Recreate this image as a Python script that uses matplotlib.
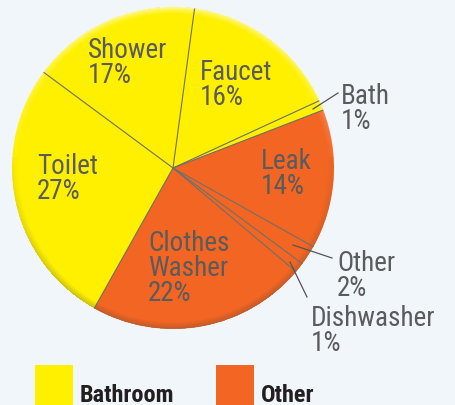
import numpy as np
import matplotlib.pyplot as plt
from matplotlib.patches import Rectangle

# water use by category, read clockwise from the top
labels = ['Faucet', 'Bath', 'Leak', 'Other', 'Dishwasher', 'Clothes\nWasher', 'Toilet', 'Shower']
shares = [16, 1, 14, 2, 1, 22, 27, 17]
groups = ['Bathroom', 'Bathroom', 'Other', 'Other', 'Other', 'Other', 'Bathroom', 'Bathroom']
group_names = ['Bathroom', 'Other']

colors = {'Bathroom': '#FFF000', 'Other': '#F26522'}
text_gray = '#5A5B5D'
font = ['Roboto Condensed', 'DejaVu Sans']

W, H = 455, 405
fig = plt.figure(figsize=(W / 100, H / 100), dpi=100)
fig.patch.set_facecolor('#F1F6FA')
ax = fig.add_axes([0, 0, 1, 1])

cx, cy, R = 173, H - 168, 161
start = 82.3
ax.pie(shares, colors=[colors[g] for g in groups], startangle=start,
       counterclock=False, center=(cx, cy), radius=R,
       wedgeprops=dict(linewidth=0))

# soft bevel on the rim: pale at the top, darker at the bottom
yy, xx = np.mgrid[H - 0.5:0:-1, 0.5:W:1]
dx, dy = xx - cx, yy - cy
r = np.hypot(dx, dy)
band = np.clip((r - (R - 7)) / 7, 0, 1) * (r <= R)
up = np.where(r > 0, dy / np.maximum(r, 1), 0)
shade = np.zeros((H, W, 4))
light = band * np.clip(up, 0, 1) * 0.55
dark = band * np.clip(-up + 0.2, 0, 1) * 0.28
shade[..., :3] = np.where((light > dark)[..., None], 1.0, 0.25)
shade[..., 3] = np.maximum(light, dark)
ax.imshow(shade, extent=[0, W, 0, H], origin='upper', zorder=2, interpolation='bilinear')

# thin dividers between slices (no outline on the rim)
edges = start - 360 * np.cumsum(shares) / sum(shares)
for a in np.radians(edges):
    ax.plot([cx, cx + R * np.cos(a)], [cy, cy + R * np.sin(a)],
            color='#6E6E66', lw=0.8, solid_capstyle='butt', zorder=3)

# label top-left corners (pixels from top-left of the image)
label_pos = {'Faucet': (200, 59), 'Bath': (341, 83), 'Leak': (261, 148),
             'Other': (337, 250), 'Dishwasher': (311, 305),
             'Clothes\nWasher': (148, 230), 'Toilet': (37, 153), 'Shower': (88, 37)}
for lab, s in zip(labels, shares):
    x, y = label_pos[lab]
    ax.text(x, H - y, f'{lab}\n{s}%', ha='left', va='top', fontsize=19.5,
            color=text_gray, family=font, linespacing=0.9, zorder=4)

# leader lines for the thin slices
leaders = {'Bath': ((313, 109), (338, 93)),
           'Other': ((293, 245), (332, 258)),
           'Dishwasher': ((290, 262), (307, 297))}
for (x0, y0), (x1, y1) in leaders.values():
    ax.plot([x0, x1], [H - y0, H - y1], color='#555555', lw=0.9, zorder=4)

# legend
legend_pos = {'Bathroom': (35, 80), 'Other': (216, 261)}
for g in group_names:
    bx, tx = legend_pos[g]
    ax.add_patch(Rectangle((bx, H - 405), 38, 40, facecolor=colors[g], lw=0))
    ax.text(tx, H - 401.5, g, ha='left', va='baseline', fontsize=17.5,
            fontweight='bold', color='#231F20', family=font)

ax.set_xlim(0, W)
ax.set_ylim(0, H)
ax.set_aspect('equal')
ax.axis('off')
fig.savefig('out.png', dpi=100, facecolor=fig.get_facecolor())
